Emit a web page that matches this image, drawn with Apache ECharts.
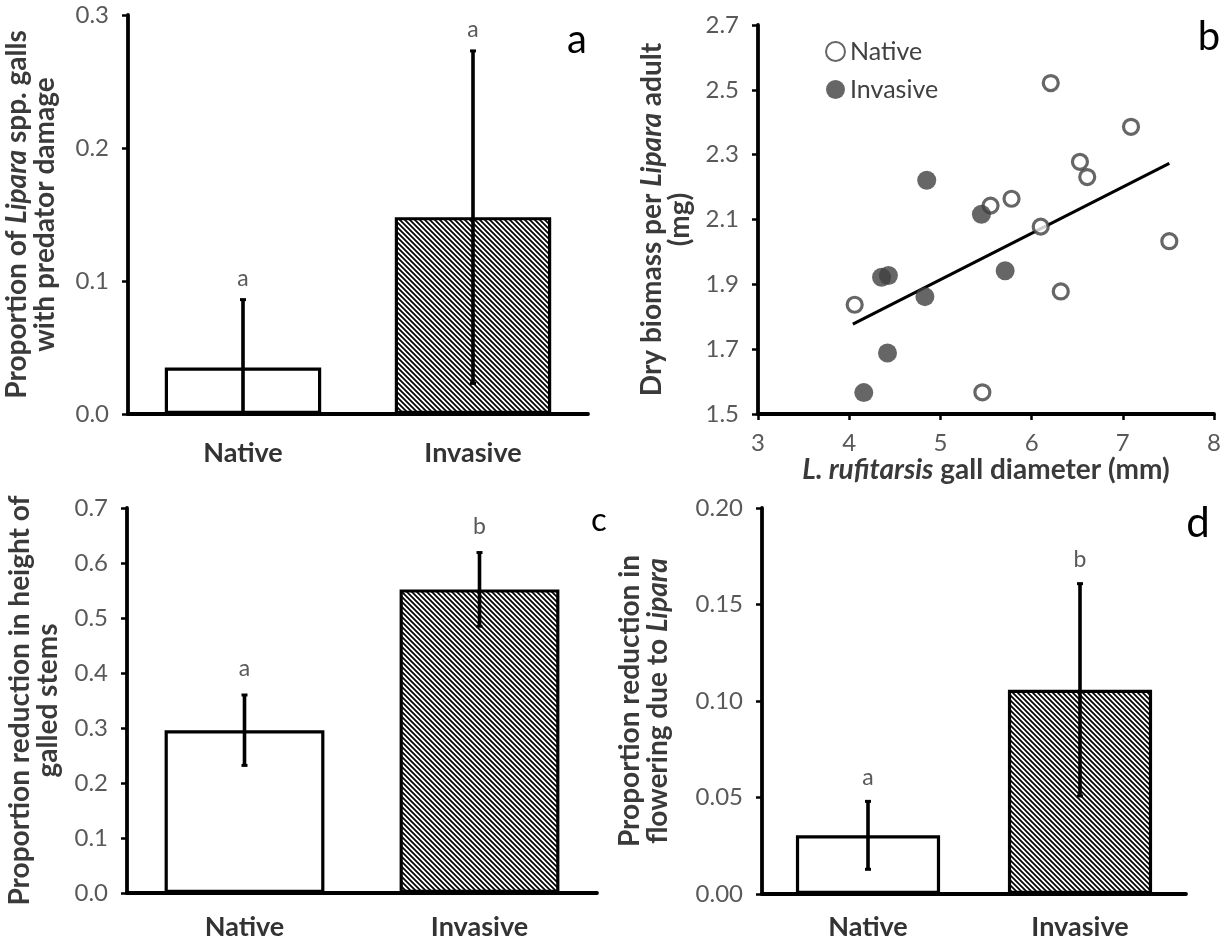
<!DOCTYPE html>
<html><head><meta charset="utf-8">
<script src="https://cdn.jsdelivr.net/npm/echarts@6/dist/echarts.min.js"></script>
<style>html,body{margin:0;padding:0;background:#fff}#c{width:1227px;height:943px}</style>
</head><body><div id="c"></div>
<script>
// ---------- data ----------
const categories = ['Native', 'Invasive'];
// panel a: proportion of galls with predator damage
const predMean = [0.035, 0.148];
const predErr = [0.051, 0.125];
const predLetters = ['a', 'a'];
// panel b: scatter
const nativeDiam = [4.06, 6.21, 7.09, 6.53, 6.61, 5.78, 5.55, 6.10, 7.51, 6.32, 5.46];
const nativeMass = [1.837, 2.521, 2.386, 2.278, 2.231, 2.164, 2.143, 2.078, 2.033, 1.878, 1.567];
const invDiam = [4.85, 5.45, 4.355, 4.43, 5.71, 4.83, 4.42, 4.16];
const invMass = [2.221, 2.116, 1.922, 1.927, 1.942, 1.862, 1.688, 1.566];
const trendDiam = [4.04, 7.51];
const trendMass = [1.777, 2.273];
// panel c: reduction in height
const heightMean = [0.296, 0.552];
const heightErr = [0.064, 0.067];
const heightLetters = ['a', 'b'];
// panel d: reduction in flowering
const flowerMean = [0.0304, 0.1058];
const flowerErr = [0.0176, 0.055];
const flowerLetters = ['a', 'b'];
const panelLetters = ['a', 'b', 'c', 'd'];

// ---------- styling ----------
const FONT = 'Lato, "Open Sans", sans-serif';
const TICK = '#595959';
const TITLE = '#3a3a3a';

const hatch = (function () {
  const s = 5;
  const cv = document.createElement('canvas');
  cv.width = s; cv.height = s;
  const ctx = cv.getContext('2d');
  ctx.fillStyle = '#fff'; ctx.fillRect(0, 0, s, s);
  ctx.strokeStyle = '#000'; ctx.lineWidth = 1.7;
  ctx.beginPath();
  for (let k = -1; k <= 1; k++) {
    ctx.moveTo(k * s - 1, -1);
    ctx.lineTo(k * s + s + 1, s + 1);
  }
  ctx.stroke();
  return { image: cv, repeat: 'repeat' };
})();

const richName = {
  b: { fontFamily: FONT, fontWeight: 'bold', fontSize: 28, color: TITLE, lineHeight: 28 },
  i: { fontFamily: FONT, fontWeight: 'bold', fontStyle: 'italic', fontSize: 28, color: TITLE, lineHeight: 28 }
};

function catAxis(idx, margin) {
  return {
    type: 'category', gridIndex: idx, data: categories,
    axisLine: { lineStyle: { color: '#000', width: 3.8 } },
    axisTick: { show: false },
    axisLabel: { margin: margin, fontFamily: FONT, fontWeight: 'bold', fontSize: 27, color: '#333' },
    splitLine: { show: false }
  };
}
function valAxis(idx, max, interval, digits, name, nameGap) {
  return {
    type: 'value', gridIndex: idx, min: 0, max: max, interval: interval,
    axisLine: { show: true, lineStyle: { color: '#000', width: 3.8 } },
    axisTick: { show: true, inside: false, length: 6, lineStyle: { color: '#000', width: 2.5 } },
    axisLabel: { margin: 19, fontFamily: FONT, fontSize: 24, color: TICK,
      formatter: v => v.toFixed(digits) },
    splitLine: { show: false },
    name: name, nameLocation: 'middle', nameGap: nameGap,
    nameTextStyle: { rich: richName, align: 'center' }
  };
}
function barSeries(idx, means) {
  return {
    type: 'bar', xAxisIndex: idx, yAxisIndex: idx, barWidth: '68%',
    data: means.map((m, i) => ({ value: m, itemStyle: { color: i === 0 ? '#fff' : hatch } })),
    itemStyle: { borderColor: '#000', borderWidth: 3.2 },
    emphasis: { disabled: true }, z: 2
  };
}
function errSeries(idx, means, errs, letters, gap) {
  return {
    type: 'custom', xAxisIndex: idx, yAxisIndex: idx, z: 5, silent: true,
    data: means.map((m, i) => [i, m, errs[i]]),
    renderItem: function (params, api) {
      const x = api.value(0), m = api.value(1), e = api.value(2);
      const lo = Math.max(0, m - e);
      const top = api.coord([x, m + e]);
      const bot = api.coord([x, lo]);
      const ch = [
        { type: 'line', shape: { x1: top[0], y1: top[1], x2: bot[0], y2: bot[1] }, style: { stroke: '#000', lineWidth: 3.6 } },
        { type: 'line', shape: { x1: top[0] - 3, y1: top[1], x2: top[0] + 3, y2: top[1] }, style: { stroke: '#000', lineWidth: 3 } },
        { type: 'text', x: top[0], y: top[1] - gap,
          style: { text: letters[params.dataIndex], fill: TICK, fontFamily: FONT, fontSize: 23, align: 'center', verticalAlign: 'middle' } }
      ];
      if (m - e > 0) ch.push({ type: 'line', shape: { x1: bot[0] - 3, y1: bot[1], x2: bot[0] + 3, y2: bot[1] }, style: { stroke: '#000', lineWidth: 3 } });
      return { type: 'group', children: ch };
    }
  };
}

const chart = echarts.init(document.getElementById('c'), null, { renderer: 'canvas' });
const option = {
  backgroundColor: '#fff',
  animation: false,
  grid: [
    { left: 128, top: 15, width: 460, height: 399 },
    { left: 758, top: 25, width: 456, height: 389 },
    { left: 127, top: 508, width: 470, height: 385 },
    { left: 762, top: 508, width: 424, height: 386 }
  ],
  xAxis: [
    catAxis(0, 26),
    {
      type: 'value', gridIndex: 1, min: 3, max: 8, interval: 1,
      axisLine: { lineStyle: { color: '#000', width: 3.8 } },
      axisTick: { show: true, length: 6, lineStyle: { color: '#000', width: 2.5 } },
      axisLabel: { margin: 17, fontFamily: FONT, fontSize: 24, color: TICK },
      splitLine: { show: false },
      name: '{i|L. rufitarsis}{b| gall diameter (mm)}', nameLocation: 'middle', nameGap: 38,
      nameTextStyle: { rich: richName }
    },
    catAxis(2, 21),
    catAxis(3, 20)
  ],
  yAxis: [
    valAxis(0, 0.3, 0.1, 1, '{b|Proportion of }{i|Lipara}{b| spp. galls}\n{b|with predator damage}', 69),
    {
      type: 'value', gridIndex: 1, min: 1.5, max: 2.7, interval: 0.2,
      axisLine: { show: true, lineStyle: { color: '#000', width: 3.8 } },
      axisTick: { show: true, length: 6, lineStyle: { color: '#000', width: 2.5 } },
      axisLabel: { margin: 19, fontFamily: FONT, fontSize: 24, color: TICK, formatter: v => v.toFixed(1) },
      splitLine: { show: false },
      name: '{b|Dry biomass per }{i|Lipara}{b| adult}\n{b|(mg)}', nameLocation: 'middle', nameGap: 64,
      nameTextStyle: { rich: richName }
    },
    valAxis(2, 0.7, 0.1, 1, '{b|Proportion reduction in height of}\n{b|galled stems}', 65),
    valAxis(3, 0.2, 0.05, 2, '{b|Proportion reduction in}\n{b|flowering due to }{i|Lipara}', 90)
  ],
  legend: {
    left: 820, top: 34, orient: 'vertical', itemGap: 13, itemWidth: 19, itemHeight: 19, icon: 'circle',
    data: ['Native', 'Invasive'],
    textStyle: { fontFamily: FONT, fontSize: 25, color: '#404040' },
    selectedMode: false
  },
  series: [
    barSeries(0, predMean), errSeries(0, predMean, predErr, predLetters, 21),
    {
      name: 'Native', type: 'scatter', xAxisIndex: 1, yAxisIndex: 1, symbol: 'circle', symbolSize: 15,
      itemStyle: { color: '#fff', borderColor: '#404040', borderWidth: 3.2 },
      data: nativeDiam.map((d, i) => [d, nativeMass[i]]), z: 4
    },
    {
      name: 'Invasive', type: 'scatter', xAxisIndex: 1, yAxisIndex: 1, symbol: 'circle', symbolSize: 19,
      itemStyle: { color: '#404040' },
      data: invDiam.map((d, i) => [d, invMass[i]]), z: 4
    },
    {
      name: 'trend', type: 'line', xAxisIndex: 1, yAxisIndex: 1, symbol: 'none',
      lineStyle: { color: '#000', width: 3 }, data: trendDiam.map((d, i) => [d, trendMass[i]]), z: 3
    },
    barSeries(2, heightMean), errSeries(2, heightMean, heightErr, heightLetters, 26),
    barSeries(3, flowerMean), errSeries(3, flowerMean, flowerErr, flowerLetters, 24)
  ],
  graphic: [
    { type: 'text', x: 577, y: 40, style: { text: panelLetters[0], fontFamily: FONT, fontSize: 40, fill: '#000', align: 'center', verticalAlign: 'middle' } },
    { type: 'text', x: 1209, y: 37, style: { text: panelLetters[1], fontFamily: FONT, fontSize: 40, fill: '#000', align: 'center', verticalAlign: 'middle' } },
    { type: 'text', x: 599, y: 520, style: { text: panelLetters[2], fontFamily: FONT, fontSize: 33, fill: '#000', align: 'center', verticalAlign: 'middle' } },
    { type: 'text', x: 1198, y: 523, style: { text: panelLetters[3], fontFamily: FONT, fontSize: 42, fill: '#000', align: 'center', verticalAlign: 'middle' } }
  ]
};
chart.setOption(option);
</script>
</body></html>
